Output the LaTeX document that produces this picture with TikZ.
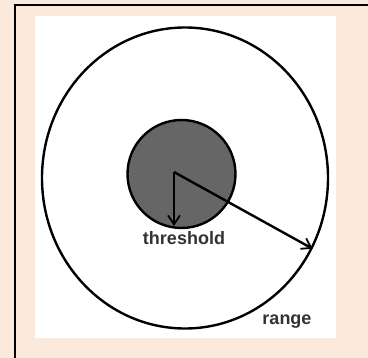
\documentclass[tikz,border=0pt]{standalone}
\usepackage{fontspec}
\setmainfont{Liberation Sans}
\usepackage{xcolor}
\usepackage{tikz}
\usetikzlibrary{positioning, calc, arrows.meta, shapes.geometric}
\definecolor{PeachBg}{HTML}{FBE9DC}
\definecolor{DiscGray}{HTML}{666666}
\definecolor{LabelGray}{HTML}{333333}

\begin{document}
\begin{tikzpicture}[x=1pt, y=-1pt, line width=2.4pt,
    lbl/.style={font=\fontsize{18}{20}\selectfont\bfseries, text=LabelGray, inner sep=0pt},
    ptr/.style={-{Straight Barb[length=9pt,width=12pt,line width=1.8pt]}}]
  \useasboundingbox (0,0) rectangle (368,358);
  \fill[PeachBg] (0,0) rectangle (368,358);
  \draw[line width=1.5pt] (15,358) -- (15,5) -- (368,5);
  \fill[white] (35,16) rectangle (336,338);
  \node[draw, ellipse, minimum width=286pt, minimum height=301pt, inner sep=0pt] (rng) at (185,178) {};
  \node[draw, circle, fill=DiscGray, minimum size=108pt, inner sep=0pt] (thr) at (181.5,174) {};
  \coordinate (o) at (174,172);
  \coordinate (td) at (174,226);
  \draw[ptr] (o) -- (td);
  \draw[ptr] (o) -- (rng.-29);
  \node[lbl] (tlab) at (184,238) {threshold};
  \node[lbl] (rlab) at (287,322) {range};
\end{tikzpicture}
\end{document}
